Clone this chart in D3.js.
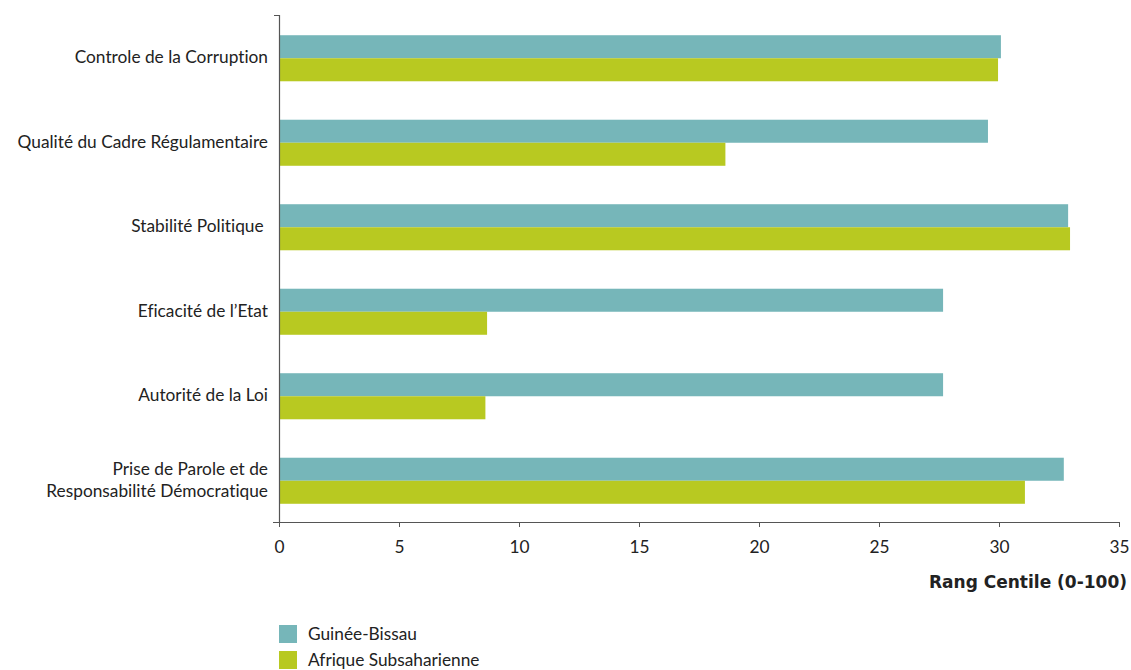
<!DOCTYPE html>
<html>
<head>
<meta charset="utf-8">
<script src="https://cdn.jsdelivr.net/npm/d3@7"></script>
<style>
  body { margin: 0; background: #fff; }
  svg { font-family: Lato, "Open Sans", sans-serif; font-variant-ligatures: none; }
</style>
</head>
<body>
<script>
// data
const categories = [
  ['Controle de la Corruption'],
  ['Qualité du Cadre Régulamentaire'],
  ['Stabilité Politique '],
  ['Eficacité de l\u2019Etat'],
  ['Autorité de la Loi'],
  ['Prise de Parole et de', 'Responsabilité Démocratique']
]
const seriesNames = ['Guinée-Bissau', 'Afrique Subsaharienne']
const guineeBissau = [30.08, 29.54, 32.88, 27.67, 27.67, 32.7]
const afriqueSub = [29.96, 18.6, 32.96, 8.67, 8.6, 31.08]
const xTicks = [0, 5, 10, 15, 20, 25, 30, 35]
const colors = ['#76b6b9', '#b8c921']

const width = 1131, height = 670
const margin = {top: 15, left: 279, right: 12, bottom: 148}

const svg = d3.select('body').append('svg')
  .attr('width', width)
  .attr('height', height)

const x = d3.scaleLinear()
  .domain([0, 35])
  .range([margin.left, 1119])

const y = d3.scaleBand()
  .domain(categories.map((d, i) => i))
  .range([margin.top + 1, height - margin.bottom + 1])
  .paddingInner(0.455)
  .paddingOuter(0.2275)

const ySub = d3.scaleBand()
  .domain([0, 1])
  .range([0, y.bandwidth()])

const rows = categories.map((c, i) => ({i, vals: [guineeBissau[i], afriqueSub[i]]}))

const groups = svg.selectAll('g.cat')
  .data(rows)
  .enter()
  .append('g')
  .attr('class', 'cat')
  .attr('transform', d => `translate(0,${y(d.i)})`)

groups.selectAll('rect')
  .data(d => d.vals)
  .enter()
  .append('rect')
  .attr('x', x(0))
  .attr('y', (d, j) => ySub(j))
  .attr('width', d => x(d) - x(0))
  .attr('height', ySub.bandwidth())
  .attr('fill', (d, j) => colors[j])

// y axis: only the line with small outer ticks
const yAxis = svg.append('g')
  .attr('transform', `translate(${x(0)},0)`)
  .call(d3.axisLeft(y.copy().range([margin.top, height - margin.bottom])).tickValues([]).tickSizeOuter(5))
yAxis.select('.domain').attr('stroke', '#555').attr('stroke-width', 1.2)

// category labels
const labels = svg.append('g')
  .selectAll('text')
  .data(categories)
  .enter()
  .append('text')
  .attr('x', x(0) - 11)
  .attr('y', (d, i) => y(i) + y.bandwidth() / 2)
  .attr('text-anchor', 'end')
  .attr('font-size', 17.3)
  .attr('fill', '#222')
  .style('white-space', 'pre')

labels.selectAll('tspan')
  .data(d => d.map((t, k) => ({t, k, n: d.length})))
  .enter()
  .append('tspan')
  .attr('x', x(0) - 11)
  .attr('dy', d => d.k === 0 ? (0.3 - (d.n - 1) * 0.62) + 'em' : '1.24em')
  .text(d => d.t)

// x axis
const xAxis = svg.append('g')
  .attr('transform', `translate(0,${height - margin.bottom})`)
  .call(d3.axisBottom(x).tickValues(xTicks).tickSize(5).tickSizeOuter(0).tickPadding(14))
xAxis.select('.domain').attr('stroke', '#555').attr('stroke-width', 1.2)
  .attr('d', `M${x(0) - 6},0.5H${x(35)}`)
xAxis.selectAll('.tick line').attr('stroke', '#555')
xAxis.selectAll('.tick text')
  .attr('font-size', 17.3)
  .attr('font-family', 'Lato, "Open Sans", sans-serif')
  .attr('fill', '#222')

svg.append('text')
  .attr('x', 1127)
  .attr('y', 588)
  .attr('text-anchor', 'end')
  .attr('font-size', 17)
  .attr('font-weight', 'bold')
  .attr('font-family', '"DejaVu Sans", sans-serif')
  .attr('fill', '#222')
  .text('Rang Centile (0-100)')

// legend
const legend = svg.append('g')
  .selectAll('g')
  .data(seriesNames)
  .enter()
  .append('g')
  .attr('transform', (d, i) => `translate(${x(0)},${625 + i * 26})`)

legend.append('rect')
  .attr('width', 18)
  .attr('height', 18)
  .attr('fill', (d, i) => colors[i])

legend.append('text')
  .attr('x', 29)
  .attr('y', 9)
  .attr('dy', '0.35em')
  .attr('font-size', 17.3)
  .attr('fill', '#222')
  .text(d => d)
</script>
</body>
</html>
